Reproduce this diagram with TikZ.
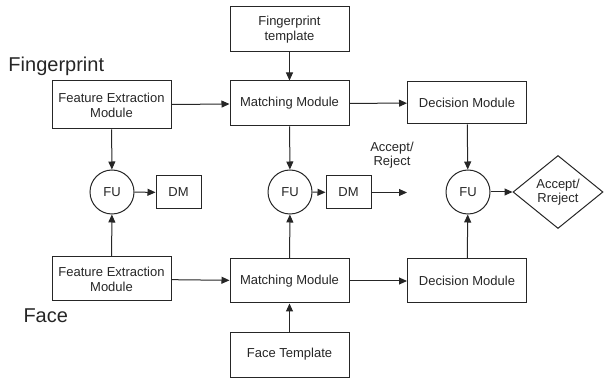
\documentclass[tikz,border=0pt]{standalone}
\usepackage{fontspec}
\setmainfont{Liberation Sans}
\usetikzlibrary{arrows.meta,shapes.geometric}

\tikzset{
  modbox/.style={draw, minimum width=119pt, inner sep=0pt, align=center,
    font=\fontsize{13}{15}\selectfont},
  fucirc/.style={draw, circle, minimum size=44pt, inner sep=0pt,
    font=\fontsize{13}{15}\selectfont},
  dmbox/.style={draw, minimum width=45pt, minimum height=33pt, inner sep=0pt,
    font=\fontsize{13}{15}\selectfont},
  decdiamond/.style={draw, diamond, aspect=1.24, minimum width=90pt,
    minimum height=73pt, inner sep=0pt, align=center,
    font=\fontsize{13}{14}\selectfont},
  biglabel/.style={anchor=base west, inner sep=0pt, font=\fontsize{20}{24}\selectfont}
}

\begin{document}
\begin{tikzpicture}[x=1pt,y=-1pt,line width=1pt,color=black!85,
    >={Triangle[length=8pt,width=7pt]}]
      \useasboundingbox (0,0) rectangle (605,379);

      % side labels
      \node[biglabel] (fplabel) at (8,72) {Fingerprint};
      \node[biglabel] (facelabel) at (23,323) {Face};

      % fingerprint row
      \node[modbox,minimum height=45pt] (fptmpl) at (289.5,29.5) {Fingerprint\\template};
      \node[modbox,minimum height=48pt] (fefp) at (111.5,105) {Feature Extraction\\Module};
      \node[modbox,minimum height=45pt] (matchfp) at (289.5,103.5) {Matching Module};
      \node[modbox,minimum height=42pt] (decfp) at (467,103) {Decision Module};

      % fusion row
      \node[fucirc] (fu1) at (112,192) {FU};
      \node[dmbox] (dm1) at (178.5,192.5) {DM};
      \node[fucirc] (fu2) at (290,192) {FU};
      \node[dmbox] (dm2) at (348.5,192.5) {DM};
      \coordinate (dmout) at (407,192.5);
      \node[align=center,inner sep=0pt,font=\fontsize{13}{14}\selectfont] (accrej) at (392,155) {Accept/\\Reject};
      \node[fucirc] (fu3) at (468,192) {FU};
      \node[decdiamond] (final) at (558,192) {Accept/\\Rreject};

      % face row
      \node[modbox,minimum height=44pt] (feface) at (111.5,279) {Feature Extraction\\Module};
      \node[modbox,minimum height=44pt] (matchface) at (289.5,281) {Matching Module};
      \node[modbox,minimum height=44pt] (decface) at (467,281) {Decision Module};
      \node[modbox,minimum height=45pt] (facetmpl) at (289.5,354.5) {Face Template};

      % connectors
      \draw[->] (fptmpl) -- (matchfp);
      \draw[->] (fefp) -- (matchfp);
      \draw[->] (matchfp) -- (decfp);
      \draw[->] (feface) -- (matchface);
      \draw[->] (matchface) -- (decface);
      \draw[->] (facetmpl) -- (matchface);

      \draw[->] (fefp) -- (fu1);
      \draw[->] (feface) -- (fu1);
      \draw[->] (fu1) -- (dm1);

      \draw[->] (matchfp) -- (fu2);
      \draw[->] (matchface) -- (fu2);
      \draw[->] (fu2) -- (dm2);
      \draw[->] (dm2) -- (dmout);

      \draw[->] (decfp) -- (fu3);
      \draw[->] (decface) -- (fu3);
      \draw[->] (fu3) -- (final);
\end{tikzpicture}
\end{document}
